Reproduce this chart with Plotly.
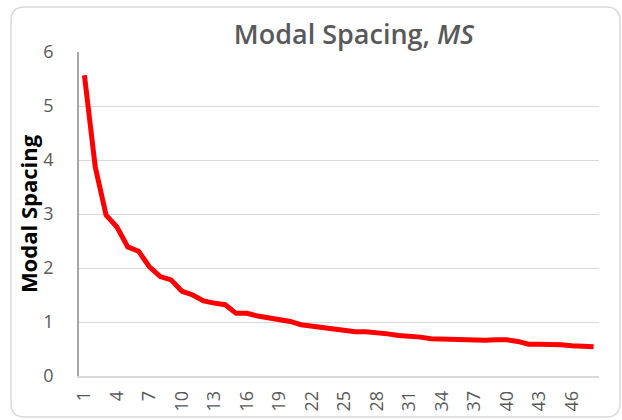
import plotly.graph_objects as go

modes = list(range(1, 49))
spacing = [
    5.57, 3.87, 2.98, 2.76, 2.39, 2.31, 2.02, 1.84, 1.78, 1.57,
    1.50, 1.39, 1.35, 1.32, 1.16, 1.16, 1.11, 1.08, 1.06, 1.01,
    0.95, 0.92, 0.90, 0.88, 0.85, 0.82, 0.82, 0.81, 0.78, 0.75,
    0.74, 0.72, 0.69, 0.68, 0.685, 0.68, 0.66, 0.66, 0.67, 0.67,
    0.64, 0.59, 0.59, 0.59, 0.58, 0.56, 0.54, 0.54,
]
x_ticks = list(range(1, 49, 3))
y_ticks = [0, 1, 2, 3, 4, 5, 6]

GREY_TEXT = "#595959"
GRID = "#d9d9d9"

fig = go.Figure()
fig.add_trace(
    go.Scatter(
        x=modes,
        y=spacing,
        mode="lines",
        line=dict(color="#ff0000", width=5),
        hovertemplate="Mode %{x}<br>MS: %{y:.2f}<extra></extra>",
    )
)

# rounded chart-area border, in pixels relative to the plot origin
border = (
    "M -54,-41 L 527,-41 Q 541,-41 541,-27 L 541,355 Q 541,369 527,369 "
    "L -54,369 Q -68,369 -68,355 L -68,-27 Q -68,-41 -54,-41 Z"
)
fig.add_shape(
    type="path",
    xref="paper",
    yref="paper",
    xsizemode="pixel",
    ysizemode="pixel",
    xanchor=0,
    yanchor=0,
    path=border,
    line=dict(color=GRID, width=1.5),
    layer="below",
)

fig.update_layout(
    width=622,
    height=420,
    margin=dict(l=79, r=23, t=52, b=44),
    paper_bgcolor="white",
    plot_bgcolor="white",
    showlegend=False,
    font=dict(family="Open Sans, Arial", color=GREY_TEXT),
    title=dict(
        text="Modal Spacing, <i>MS</i>",
        x=0.569,
        xanchor="center",
        y=0.917,
        yanchor="middle",
        font=dict(size=27, color=GREY_TEXT, weight=600),
    ),
    xaxis=dict(
        range=[0.5, 48.5],
        tickmode="array",
        tickvals=x_ticks,
        ticktext=[str(v) for v in x_ticks],
        tickangle=-90,
        tickfont=dict(size=18, color=GREY_TEXT),
        showgrid=False,
        showline=True,
        linecolor=GRID,
        linewidth=1.5,
        ticks="",
        zeroline=False,
        automargin=False,
        ticklabelstandoff=6,
    ),
    yaxis=dict(
        range=[0, 6],
        tickmode="array",
        tickvals=y_ticks,
        tickfont=dict(size=18, color=GREY_TEXT),
        showgrid=True,
        gridcolor=GRID,
        gridwidth=1,
        showline=True,
        linecolor="#a6a6a6",
        linewidth=1.5,
        ticks="",
        zeroline=False,
        automargin=False,
        ticklabelstandoff=20,
        title=dict(
            text="<b>Modal Spacing</b>",
            font=dict(size=22, color="black"),
            standoff=0,
        ),
    ),
)

fig.write_html("out.html", config={"displayModeBar": False})

# drop the browser's default 8px body margin so the figure sits at the page origin
with open("out.html", encoding="utf-8") as f:
    html = f.read()
html = html.replace("<body>", '<body style="margin:0">', 1)
with open("out.html", "w", encoding="utf-8") as f:
    f.write(html)
